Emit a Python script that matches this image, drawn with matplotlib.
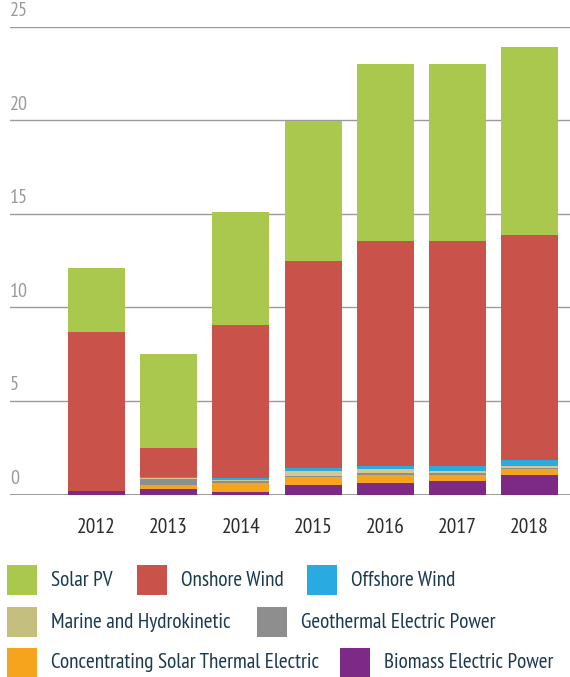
import numpy as np
import matplotlib
matplotlib.use('Agg')
import matplotlib.pyplot as plt
from matplotlib.patches import Rectangle

YEARS = ['2012', '2013', '2014', '2015', '2016', '2017', '2018']
# stacked from the bottom up
SERIES = ['Biomass Electric Power',
          'Concentrating Solar Thermal Electric',
          'Geothermal Electric Power',
          'Marine and Hydrokinetic',
          'Offshore Wind',
          'Onshore Wind',
          'Solar PV']
biomass = [0.18, 0.27, 0.16, 0.53, 0.60, 0.70, 1.02]
csp = [0.00, 0.26, 0.44, 0.38, 0.42, 0.32, 0.33]
geothermal = [0.00, 0.29, 0.11, 0.09, 0.12, 0.12, 0.06]
marine = [0.00, 0.07, 0.08, 0.23, 0.20, 0.14, 0.10]
offshore = [0.00, 0.04, 0.07, 0.18, 0.17, 0.23, 0.32]
onshore = [8.48, 1.53, 8.18, 11.05, 12.02, 12.02, 12.02]
solar_pv = [3.44, 5.03, 6.04, 7.49, 9.47, 9.47, 10.05]
VALUES = [biomass, csp, geothermal, marine, offshore, onshore, solar_pv]
COLORS = ['#7d2a86', '#f6a31d', '#8e8e8e', '#d6c78c', '#29abe2', '#c9524a', '#a9c84d']
LEGEND_COLORS = {'Marine and Hydrokinetic': '#c4bf7e'}
Y_TICKS = [0, 5, 10, 15, 20, 25]

# rows of the key under the chart
LEGEND_ROWS = [['Solar PV', 'Onshore Wind', 'Offshore Wind'],
               ['Marine and Hydrokinetic', 'Geothermal Electric Power'],
               ['Concentrating Solar Thermal Electric', 'Biomass Electric Power']]

plt.rcParams['font.family'] = ['PT Sans Narrow', 'DejaVu Sans']

W, H = 570, 677
fig = plt.figure(figsize=(W / 100, H / 100), dpi=100)
ax = fig.add_axes([10 / W, 1 - 494.5 / H, 1 - 10 / W, 468 / H])

x = np.arange(len(YEARS))
bottom = np.zeros(len(YEARS))
for name, vals, color in zip(SERIES, VALUES, COLORS):
    vals = np.array(vals)
    ax.bar(x, vals, 0.79, bottom=bottom, color=color, label=name, zorder=3)
    bottom += vals

ax.set_xlim(-1.2, 6.56)
ax.set_ylim(0, 25)
for s in ax.spines.values():
    s.set_visible(False)
ax.set_yticks([])
ax.set_xticks(x)
ax.set_xticklabels(YEARS, fontsize=15.5, color='#2b2b2b')
ax.tick_params(axis='x', length=0, pad=17)

for t in Y_TICKS:
    ax.axhline(t, color='#9a9a9a', lw=1.4 if t == 0 else 1.0, zorder=1)
    ax.text(0, t + 0.35, str(t), transform=ax.get_yaxis_transform(),
            ha='left', va='bottom', fontsize=14.5, color='#9a9a9a')

# key under the chart
name_color = dict(zip(SERIES, COLORS))
name_color.update(LEGEND_COLORS)
row_y = [580, 622, 663]
row_x = [[7, 137, 307], [7, 257], [7, 340]]
for names, yy, xs in zip(LEGEND_ROWS, row_y, row_x):
    for name, xx in zip(names, xs):
        fig.add_artist(Rectangle((xx / W, 1 - (yy + 15) / H), 30 / W, 30 / H,
                                 transform=fig.transFigure,
                                 color=name_color[name], lw=0))
        fig.text((xx + 44) / W, 1 - yy / H, name, ha='left', va='center',
                 fontsize=15.3, color='#1b3a50')

fig.savefig('out.png', dpi=100)
